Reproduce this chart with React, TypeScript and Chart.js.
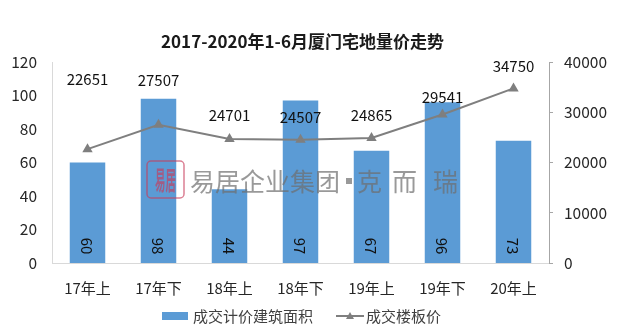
import React, { useEffect, useRef } from "react";
import { Chart, registerables } from "chart.js";

Chart.register(...registerables);

const titleText = "2017-2020年1-6月厦门宅地量价走势";
const categories = ["17年上", "17年下", "18年上", "18年下", "19年上", "19年下", "20年上"];
const areaValues = [60, 98, 44, 97, 67, 96, 73];
const priceValues = [22651, 27507, 24701, 24507, 24865, 29541, 34750];
const priceLabelLift = [70, 44, 24, 23, 23, 17, 22];
const areaLabel = "成交计价建筑面积";
const priceLabel = "成交楼板价";
const watermarkMain = "易居企业集团";
const watermarkTail = ["克", "而", "瑞"];

const FONT = "'Noto Sans CJK SC', 'Noto Sans', sans-serif";
const BAR_COLOR = "#5b9bd5";
const LINE_COLOR = "#7f7f7f";

const overlayPlugin = {
  id: "overlay",
  afterDatasetsDraw(chart: any) {
    const ctx = chart.ctx as CanvasRenderingContext2D;
    const ca = chart.chartArea;

    // watermark
    ctx.save();
    const wx = ca.left + 95;
    const wy = ca.top + 118;
    ctx.strokeStyle = "rgba(200,60,90,0.65)";
    ctx.lineWidth = 1.5;
    ctx.beginPath();
    (ctx as any).roundRect ? (ctx as any).roundRect(wx, wy - 19, 37, 37, 4) : ctx.rect(wx, wy - 19, 37, 37);
    ctx.stroke();
    ctx.fillStyle = "rgba(200,60,90,0.65)";
    ctx.font = `bold 19px ${FONT}`;
    ctx.textAlign = "center";
    ctx.textBaseline = "middle";
    ctx.save();
    ctx.translate(wx + 18.5, wy);
    ctx.scale(0.55, 1.4);
    ctx.fillText("易居", 0, 0);
    ctx.restore();
    ctx.fillStyle = "rgba(110,110,110,0.7)";
    ctx.font = `25px ${FONT}`;
    ctx.textAlign = "left";
    ctx.fillText(watermarkMain, wx + 43, wy + 1);
    ctx.fillRect(wx + 199, wy - 2, 6, 6);
    const tailX = [wx + 210, wx + 245, wx + 286];
    watermarkTail.forEach((t, i) => ctx.fillText(t, tailX[i], wy + 1));
    ctx.restore();

    // bar value labels (rotated)
    const barMeta = chart.getDatasetMeta(0);
    ctx.save();
    ctx.fillStyle = "#111";
    ctx.font = `15px ${FONT}`;
    ctx.textAlign = "center";
    ctx.textBaseline = "middle";
    barMeta.data.forEach((el: any, i: number) => {
      ctx.save();
      ctx.translate(el.x, el.base - 17);
      ctx.rotate(Math.PI / 2);
      ctx.fillText(String(areaValues[i]), 0, 1);
      ctx.restore();
    });
    ctx.restore();

    // line value labels
    const lineMeta = chart.getDatasetMeta(1);
    ctx.save();
    ctx.fillStyle = "#111";
    ctx.font = `15px ${FONT}`;
    ctx.textAlign = "center";
    ctx.textBaseline = "middle";
    lineMeta.data.forEach((el: any, i: number) => {
      ctx.fillText(String(priceValues[i]), el.x, el.y - priceLabelLift[i]);
    });
    ctx.restore();
  },
  afterDraw(chart: any) {
    const ctx = chart.ctx as CanvasRenderingContext2D;
    const ca = chart.chartArea;
    // title
    ctx.save();
    ctx.fillStyle = "#1a1a1a";
    ctx.font = `bold 17px ${FONT}`;
    ctx.textAlign = "center";
    ctx.textBaseline = "middle";
    ctx.fillText(titleText, (ca.left + ca.right) / 2 + 2, 42);
    ctx.restore();

    // legend
    ctx.save();
    const ly = 316;
    ctx.fillStyle = BAR_COLOR;
    ctx.fillRect(162, ly - 4, 26, 8);
    ctx.fillStyle = "#404040";
    ctx.font = `15px ${FONT}`;
    ctx.textAlign = "left";
    ctx.textBaseline = "middle";
    ctx.fillText(areaLabel, 193, ly);
    ctx.strokeStyle = LINE_COLOR;
    ctx.lineWidth = 2;
    ctx.beginPath();
    ctx.moveTo(336, ly);
    ctx.lineTo(364, ly);
    ctx.stroke();
    ctx.fillStyle = LINE_COLOR;
    ctx.beginPath();
    ctx.moveTo(350, ly - 4);
    ctx.lineTo(354, ly + 3);
    ctx.lineTo(346, ly + 3);
    ctx.closePath();
    ctx.fill();
    ctx.fillStyle = "#404040";
    ctx.fillText(priceLabel, 366, ly);
    ctx.restore();
  },
};

export default function App() {
  const ref = useRef<HTMLCanvasElement | null>(null);
  useEffect(() => {
    if (!ref.current) return;
    const chart = new Chart(ref.current, {
      type: "bar",
      data: {
        labels: categories,
        datasets: [
          {
            type: "bar",
            label: areaLabel,
            data: areaValues,
            backgroundColor: BAR_COLOR,
            borderWidth: 0,
            categoryPercentage: 1,
            barPercentage: 0.5,
            yAxisID: "y",
            order: 1,
          } as any,
          {
            type: "line",
            label: priceLabel,
            data: priceValues,
            borderColor: LINE_COLOR,
            backgroundColor: LINE_COLOR,
            borderWidth: 2,
            pointStyle: "triangle",
            pointRadius: 4,
            pointBackgroundColor: LINE_COLOR,
            pointBorderColor: LINE_COLOR,
            tension: 0,
            yAxisID: "y1",
            order: 0,
          } as any,
        ],
      },
      options: {
        responsive: false,
        animation: false,
        layout: { padding: { top: 62, left: 0, right: 0, bottom: 0 } },
        plugins: {
          legend: { display: false },
          title: { display: false },
          tooltip: { enabled: false },
        },
        scales: {
          x: {
            grid: { display: false, drawTicks: false },
            border: { display: true, color: "#d9d9d9", width: 1 },
            ticks: { color: "#262626", font: { family: FONT, size: 15 }, padding: 16, maxRotation: 0 },
            afterFit: (s: any) => {
              s.height = 73;
            },
          },
          y: {
            position: "left",
            min: 0,
            max: 120,
            grid: { display: false, drawTicks: false },
            border: { display: true, color: "#d9d9d9", width: 1 },
            ticks: {
              stepSize: 20,
              color: "#262626",
              font: { family: FONT, size: 15.5 },
              padding: 15,
              callback: (v: any) => String(v),
            },
            afterFit: (s: any) => {
              s.width = 52;
            },
          },
          y1: {
            position: "right",
            min: 0,
            max: 40000,
            grid: { display: true, drawOnChartArea: false, drawTicks: true, tickLength: 4, color: "#a6a6a6" },
            border: { display: true, color: "#a6a6a6", width: 1 },
            ticks: {
              stepSize: 10000,
              color: "#262626",
              font: { family: FONT, size: 15.5 },
              padding: 11,
              callback: (v: any) => String(v),
            },
            afterFit: (s: any) => {
              s.width = 76;
            },
          },
        },
      },
      plugins: [overlayPlugin],
    });
    return () => chart.destroy();
  }, []);
  return (
    <div style={{ position: "fixed", left: 0, top: 0, width: 625, height: 336, background: "#fff" }}>
      <canvas ref={ref} width={625} height={336} style={{ display: "block" }} />
    </div>
  );
}
